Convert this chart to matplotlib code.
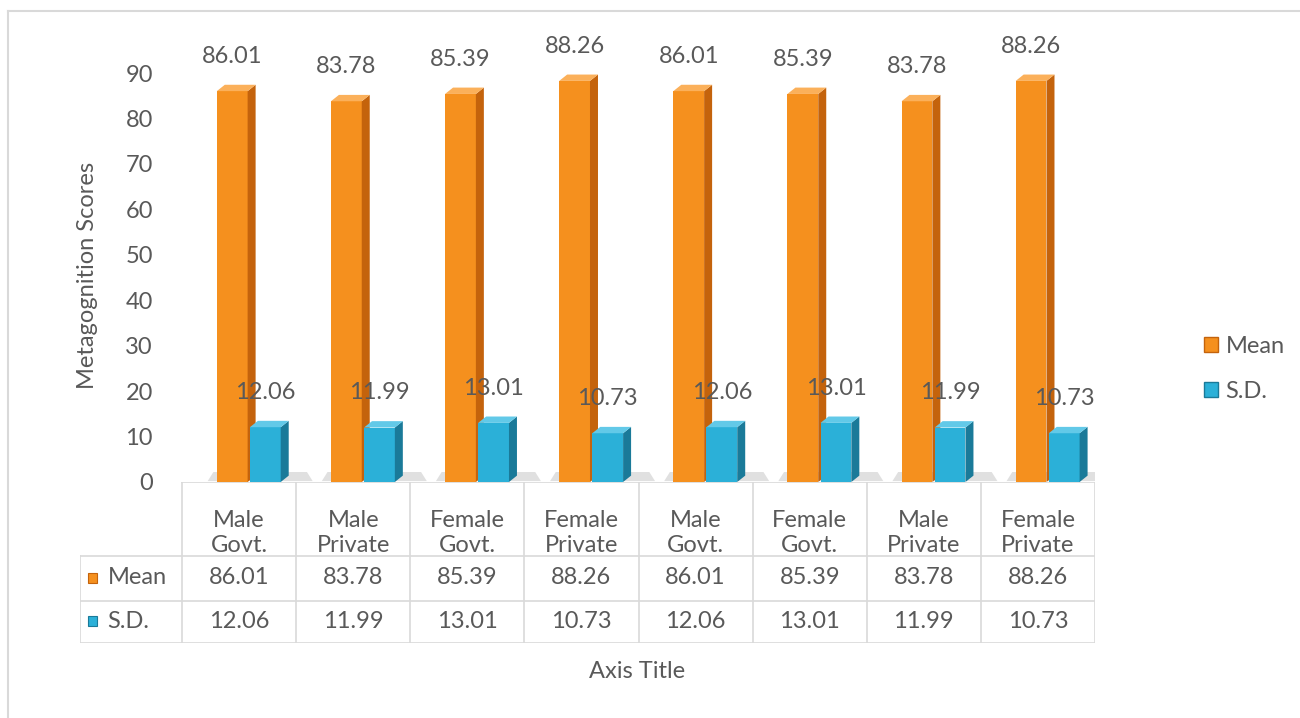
import matplotlib.pyplot as plt
from matplotlib.patches import Polygon, Rectangle, Patch

# data
categories = ["Male\nGovt.", "Male\nPrivate", "Female\nGovt.", "Female\nPrivate",
              "Male\nGovt.", "Female\nGovt.", "Male\nPrivate", "Female\nPrivate"]
mean_vals = [86.01, 83.78, 85.39, 88.26, 86.01, 85.39, 83.78, 88.26]
sd_vals = [12.06, 11.99, 13.01, 10.73, 12.06, 13.01, 11.99, 10.73]
series = ["Mean", "S.D."]

W, H = 1300, 718
TXT = "#595959"
GRID = "#d9d9d9"
ORANGE = ("#f5901e", "#c4630c", "#fbb05a")   # front, side, top
BLUE = ("#2bb0d8", "#1a7a99", "#62c9e8")
FS = 17

plt.rcParams['font.family'] = ['Lato', 'DejaVu Sans']

fig = plt.figure(figsize=(W / 100, H / 100), dpi=100)


def fx(px):
    return px / W


def fy(py):
    return 1 - py / H


# chart frame (top and left edges only visible)
fig.add_artist(plt.Line2D([fx(8), 1], [fy(11), fy(11)], color=GRID, lw=1.5))
fig.add_artist(plt.Line2D([fx(8), fx(8)], [0, fy(11)], color=GRID, lw=1.5))

# main plot axes: x from 182 to 1095 px, y 0 at 482 px, 90 at 73 px
ax = fig.add_axes([fx(182), fy(482), fx(1095) - fx(182), fy(73) - fy(482)])
ax.set_xlim(-0.5, 7.5)
ax.set_ylim(0, 90)
for s in ax.spines.values():
    s.set_visible(False)
ax.set_xticks([])
ax.set_yticks(range(0, 91, 10))
ax.tick_params(axis="y", length=0, pad=21, labelsize=FS, labelcolor=TXT)

bw = 0.27     # front face width
dx = 0.07     # depth offset (x, data units)
dy = 1.4      # depth offset (y, data units)
offsets = [-0.06, 0.23]


def bar3d(x, h, cols):
    x0 = x - bw / 2
    front, side, top = cols
    ax.bar(x, h, width=bw, color=front, zorder=3, edgecolor="none")
    ax.add_patch(Polygon([(x0 + bw, 0), (x0 + bw + dx, dy), (x0 + bw + dx, h + dy), (x0 + bw, h)],
                         closed=True, fc=side, ec="none", zorder=3))
    ax.add_patch(Polygon([(x0, h), (x0 + bw, h), (x0 + bw + dx, h + dy), (x0 + dx, h + dy)],
                         closed=True, fc=top, ec="none", zorder=3))


for i in range(len(categories)):
    # floor shadow
    xl = i + offsets[0] - bw / 2 - 0.08
    xr = i + offsets[1] + bw / 2 + 0.28
    ax.add_patch(Polygon([(xl, 0.2), (xr, 0.2), (xr - 0.05, 2.2), (xl + 0.05, 2.2)],
                         closed=True, fc="#9a9a9a", alpha=0.3, ec="none", zorder=1))
    for vals, off, cols in [(mean_vals, offsets[0], ORANGE), (sd_vals, offsets[1], BLUE)]:
        x = i + off
        bar3d(x, vals[i], cols)
        ax.annotate(f"{vals[i]:.2f}", (x, vals[i]), xytext=(0, 25), textcoords="offset points",
                    ha="center", va="center", fontsize=FS, color=TXT, zorder=5,
                    annotation_clip=False)

# y label
fig.text(fx(88), fy(275), "Metagognition Scores", rotation=90, ha="center", va="center",
         fontsize=FS, color=TXT)

# data table below the plot
tab = fig.add_axes([fx(80), fy(643), fx(1095) - fx(80), fy(482) - fy(643)])
hdr = (182 - 80) / ((1095 - 182) / 8)
tab.set_xlim(-0.5 - hdr, 7.5)
tab.set_ylim(161, 0)
tab.axis("off")
xl_tab = -0.5 - hdr
rows = [0, 74, 119, 161]
tab.plot([-0.5, 7.5], [0, 0], color=GRID, lw=1.2)
for r in rows[1:]:
    tab.plot([xl_tab, 7.5], [r, r], color=GRID, lw=1.2)
tab.plot([xl_tab, xl_tab], [rows[1], rows[3]], color=GRID, lw=1.2)
for k in range(len(categories) + 1):
    tab.plot([k - 0.5, k - 0.5], [0, 161], color=GRID, lw=1.2)

for i, c in enumerate(categories):
    tab.text(i, 51, c, ha="center", va="center", fontsize=FS, color=TXT, linespacing=1.25)
    tab.text(i, 96, f"{mean_vals[i]:.2f}", ha="center", va="center", fontsize=FS, color=TXT)
    tab.text(i, 139, f"{sd_vals[i]:.2f}", ha="center", va="center", fontsize=FS, color=TXT)

for r, name, cols in [(96, series[0], ORANGE), (139, series[1], BLUE)]:
    tab.add_patch(Rectangle((xl_tab + 0.07, r - 5), 0.08, 10, fc=cols[0], ec=cols[1], lw=0.8))
    tab.text(xl_tab + 0.24, r, name, ha="left", va="center", fontsize=FS, color=TXT)

# x axis title
fig.text(fx(637), fy(671), "Axis Title", ha="center", va="center", fontsize=FS, color=TXT)

# legend
handles = [Patch(fc=ORANGE[0], ec=ORANGE[1]), Patch(fc=BLUE[0], ec=BLUE[1])]
fig.legend(handles, series, loc="center left", bbox_to_anchor=(fx(1183), fy(369)),
           frameon=False, fontsize=FS, labelcolor=TXT, handlelength=0.6, handleheight=0.6,
           handletextpad=0.3, labelspacing=1.0)

fig.savefig("out.png", dpi=100)
